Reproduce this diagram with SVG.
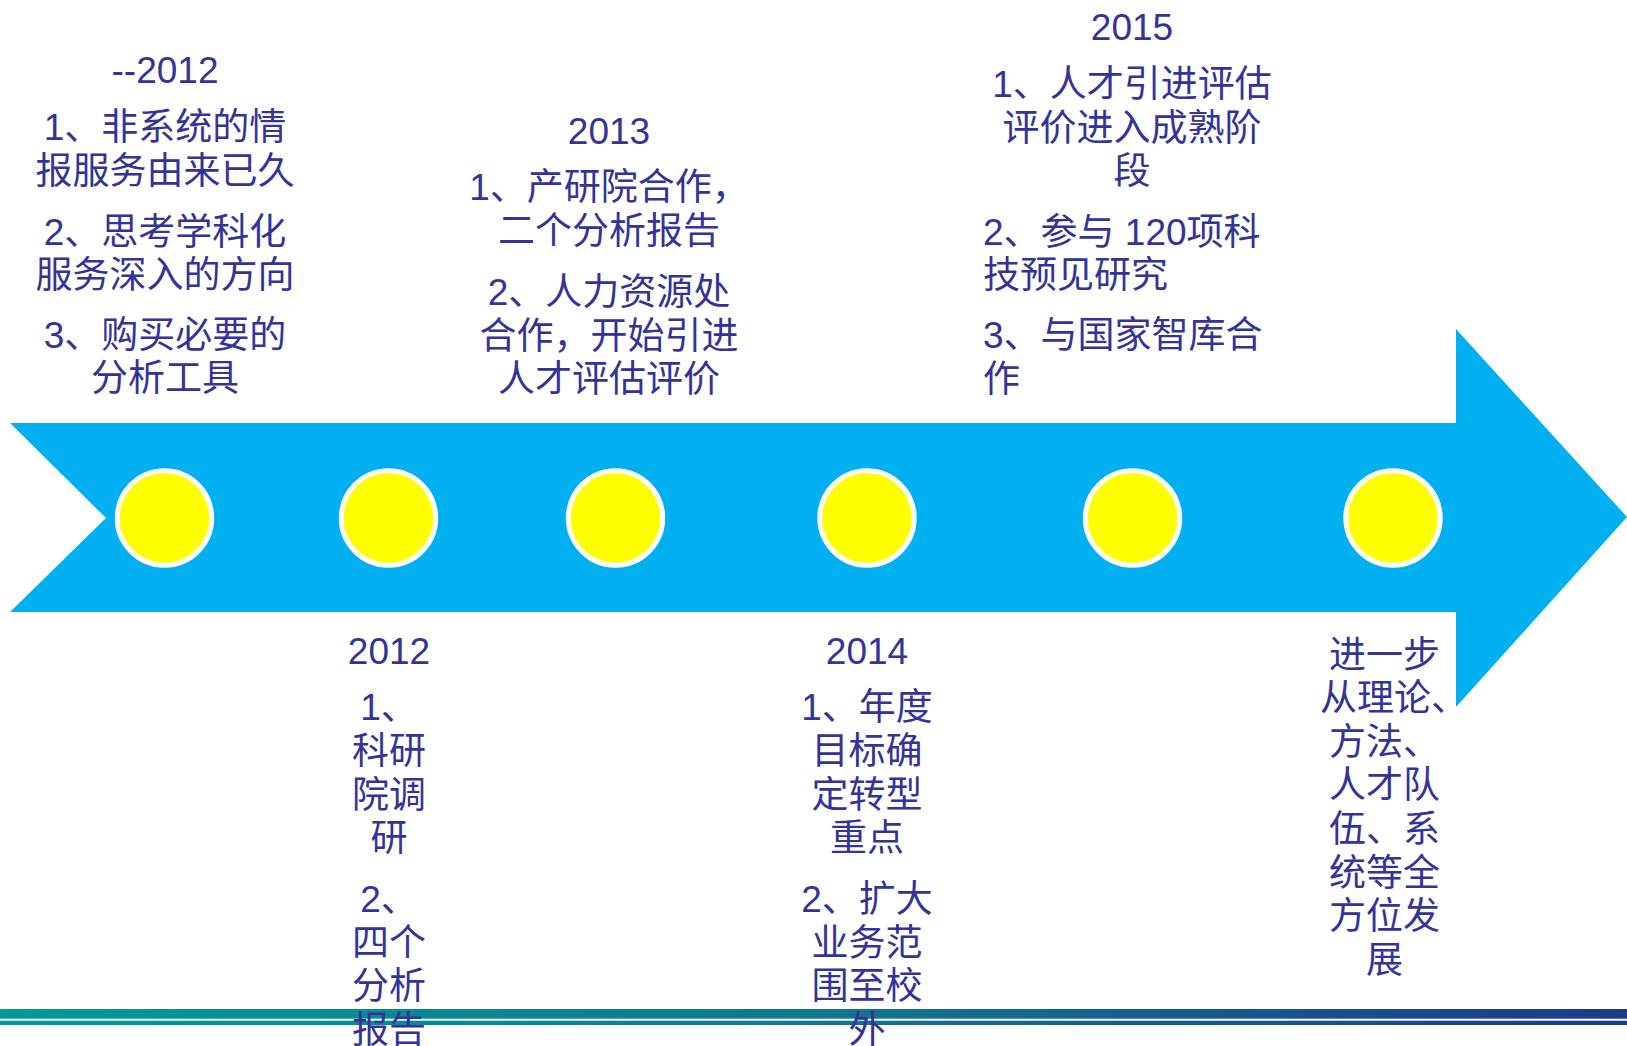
<svg xmlns="http://www.w3.org/2000/svg" width="1627" height="1046" viewBox="0 0 1627 1046">
<style>
  text { font-family: "Liberation Sans", "Noto Sans CJK SC", sans-serif; font-size: 37px; fill: #333399; }
  .c { text-anchor: middle; }
  .s { text-anchor: start; }
  .dot { fill: #FFFF00; stroke: #FFFFFF; stroke-width: 5; }
</style>
<defs>
  <linearGradient id="bar" x1="0" y1="0" x2="1" y2="0">
    <stop offset="0" stop-color="#009A9A"/>
    <stop offset="0.5" stop-color="#11788F"/>
    <stop offset="1" stop-color="#1B3A8C"/>
  </linearGradient>
</defs>
<rect width="1627" height="1046" fill="#FFFFFF"/>

<g id="arrow">
  <polygon points="10,423 1456,423 1456,329 1627,517 1456,707 1456,612 10,612 106,518" fill="#00B0F0"/>
</g>

<g id="bars">
  <rect x="0" y="1009" width="1627" height="9.7" fill="url(#bar)"/>
  <rect x="0" y="1020.7" width="1627" height="4.3" fill="url(#bar)"/>
</g>

<g id="dots">
  <circle id="dot1" class="dot" cx="164.5" cy="518" r="47.2"/>
  <circle id="dot2" class="dot" cx="388.5" cy="518" r="47.2"/>
  <circle id="dot3" class="dot" cx="615.5" cy="518" r="47.2"/>
  <circle id="dot4" class="dot" cx="867" cy="518" r="47.2"/>
  <circle id="dot5" class="dot" cx="1132.5" cy="518" r="47.2"/>
  <circle id="dot6" class="dot" cx="1393" cy="518" r="47.2"/>
</g>

<g id="label-pre2012" class="c">
  <text x="165" y="83">--2012</text>
  <text x="165" y="140">1、非系统的情</text>
  <text x="165" y="184">报服务由来已久</text>
  <text x="165" y="245">2、思考学科化</text>
  <text x="165" y="288">服务深入的方向</text>
  <text x="165" y="348">3、购买必要的</text>
  <text x="165" y="391">分析工具</text>
</g>

<g id="label-2013" class="c">
  <text x="609" y="144">2013</text>
  <text x="609" y="200">1、产研院合作，</text>
  <text x="609" y="244">二个分析报告</text>
  <text x="609" y="305">2、人力资源处</text>
  <text x="609" y="349">合作，开始引进</text>
  <text x="609" y="392">人才评估评价</text>
</g>

<g id="label-2015">
  <text class="c" x="1132" y="40">2015</text>
  <text class="c" x="1132" y="97">1、人才引进评估</text>
  <text class="c" x="1132" y="141">评价进入成熟阶</text>
  <text class="c" x="1132" y="184">段</text>
  <text class="s" x="983" y="245">2、参与 120项科</text>
  <text class="s" x="983" y="288">技预见研究</text>
  <text class="s" x="983" y="348">3、与国家智库合</text>
  <text class="s" x="983" y="392">作</text>
</g>

<g id="label-2012" class="c">
  <text x="389" y="664">2012</text>
  <text x="389" y="720">1、</text>
  <text x="389" y="764">科研</text>
  <text x="389" y="808">院调</text>
  <text x="389" y="851">研</text>
  <text x="389" y="912">2、</text>
  <text x="389" y="956">四个</text>
  <text x="389" y="999">分析</text>
  <text x="389" y="1043">报告</text>
</g>

<g id="label-2014" class="c">
  <text x="867" y="664">2014</text>
  <text x="867" y="720">1、年度</text>
  <text x="867" y="764">目标确</text>
  <text x="867" y="808">定转型</text>
  <text x="867" y="851">重点</text>
  <text x="867" y="912">2、扩大</text>
  <text x="867" y="956">业务范</text>
  <text x="867" y="999">围至校</text>
  <text x="867" y="1043">外</text>
</g>

<g id="label-future" class="s">
  <text x="1329" y="668">进一步</text>
  <text x="1320" y="711">从理论、</text>
  <text x="1329" y="755">方法、</text>
  <text x="1329" y="798">人才队</text>
  <text x="1329" y="842">伍、系</text>
  <text x="1329" y="886">统等全</text>
  <text x="1329" y="929">方位发</text>
  <text x="1366" y="973">展</text>
</g>
</svg>
